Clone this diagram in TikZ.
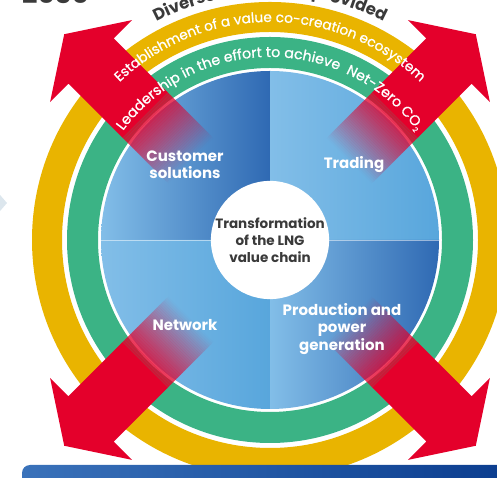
\documentclass[tikz,border=0pt]{standalone}
\usepackage{fontspec}
\newfontfamily\pop{Poppins}
\newfontfamily\popm[FakeBold=0.9]{Poppins}
\usetikzlibrary{decorations.text}
\definecolor{ylw}{HTML}{E9B400}
\definecolor{grn}{HTML}{3BB385}
\definecolor{rd}{HTML}{E4002B}
\definecolor{blA}{HTML}{82BEE8}
\definecolor{blB}{HTML}{2F69B3}
\definecolor{blC}{HTML}{58A6DC}
\definecolor{dk}{HTML}{3A3A3A}
\definecolor{barA}{HTML}{3A72BA}
\definecolor{barB}{HTML}{0A3C8E}
\definecolor{chev}{HTML}{DCE6ED}
\begin{document}
\begin{tikzpicture}[x=1pt,y=1pt,
  lbl/.style={text=white, font=\pop\bfseries\fontsize{15}{17.5}\selectfont, align=center, inner sep=0pt},
  ctrtxt/.style={circle, fill=white, minimum size=116pt, inner sep=0pt, text=dk, font=\pop\bfseries\fontsize{13.5}{17}\selectfont, align=center},
  redarrow/.style={fill=rd},
]
\useasboundingbox (0,0) rectangle (497,478);
\clip (0,0) rectangle (497,478);
\coordinate (C) at (270,238);
% 2030 title fragment
\node[anchor=base west, inner sep=0pt, text=dk, font=\pop\bfseries\fontsize{27}{27}\selectfont] (yr) at (22,474) {2030};
% left chevron fragment
\fill[chev] (-6,290) -- (7,275) -- (-6,260) -- cycle;
% rings
\fill[ylw, even odd rule] (C) circle[radius=238pt] (C) circle[radius=208pt];
\fill[grn, even odd rule] (C) circle[radius=203pt] (C) circle[radius=172pt];
% quadrants
\begin{scope}[shift={(C)}]
\shade[left color=blA, right color=blB] (0,0) -- (180:169pt) arc[start angle=180, end angle=90, radius=169pt] -- cycle;
\shade[left color=blA, right color=blC] (0,0) -- (90:169pt) arc[start angle=90, end angle=0, radius=169pt] -- cycle;
\shade[left color=blA, right color=blC] (0,0) -- (180:169pt) arc[start angle=180, end angle=270, radius=169pt] -- cycle;
\shade[left color=blA, right color=blB] (0,0) -- (270:169pt) arc[start angle=270, end angle=360, radius=169pt] -- cycle;
\draw[white, opacity=0.5, line width=0.7pt] (-169,0) -- (169,0);
\end{scope}
% arrows
\foreach \a in {45,135,225,315} {
  \begin{scope}[shift={(C)}, rotate=\a]
    \foreach \i [evaluate=\i as \op using {0.9*(\i+0.5)/33}] in {0,...,32} {
      \fill[rd, fill opacity=\op] ({112+2*\i},-32) rectangle ({114+2*\i},32);
    }
    \fill[redarrow] (177,-32) -- (253,-32) -- (253,-58) -- (291,0) -- (253,58) -- (253,32) -- (177,32) -- cycle;
  \end{scope}
}
% centre
\node[ctrtxt] (ctr) at (C) {Transformation\\of the LNG\\value chain};
% quadrant labels
\node[lbl] (cust) at (185,313.5) {Customer\\solutions};
\node[lbl] (trad) at (354,313) {Trading};
\node[lbl] (netw) at (185,153) {Network};
\node[lbl] (prod) at (342,149) {Production and\\power\\generation};
% arc texts
\begin{scope}[shift={(C)}]
\path[decorate, decoration={text along path, text align=center,
  text={|\popm\fontsize{13.7}{14}\selectfont\color{white}|Establishment of a value co-creation ecosystem}}]
  (170:218pt) arc[start angle=170, end angle=10, radius=218pt];
\path[decorate, decoration={text along path, text align=center,
  text={|\popm\fontsize{14.2}{14}\selectfont\color{white}|Leadership in the effort to achieve {\hspace*{4pt}}Net-Zero CO{\raisebox{-3pt}{\fontsize{7}{7}\selectfont 2}}}}]
  (170:183pt) arc[start angle=170, end angle=10, radius=183pt];
\path[decorate, decoration={text along path, text align=center,
  text={|\pop\bfseries\fontsize{16.5}{17}\selectfont\color{dk}|Diverse values are provided}}]
  (170:246pt) arc[start angle=170, end angle=10, radius=246pt];
\end{scope}
% bottom bar
\shade[left color=barA, right color=barB, rounded corners=8pt] (22,-10) rectangle (520,13);
\end{tikzpicture}
\end{document}
